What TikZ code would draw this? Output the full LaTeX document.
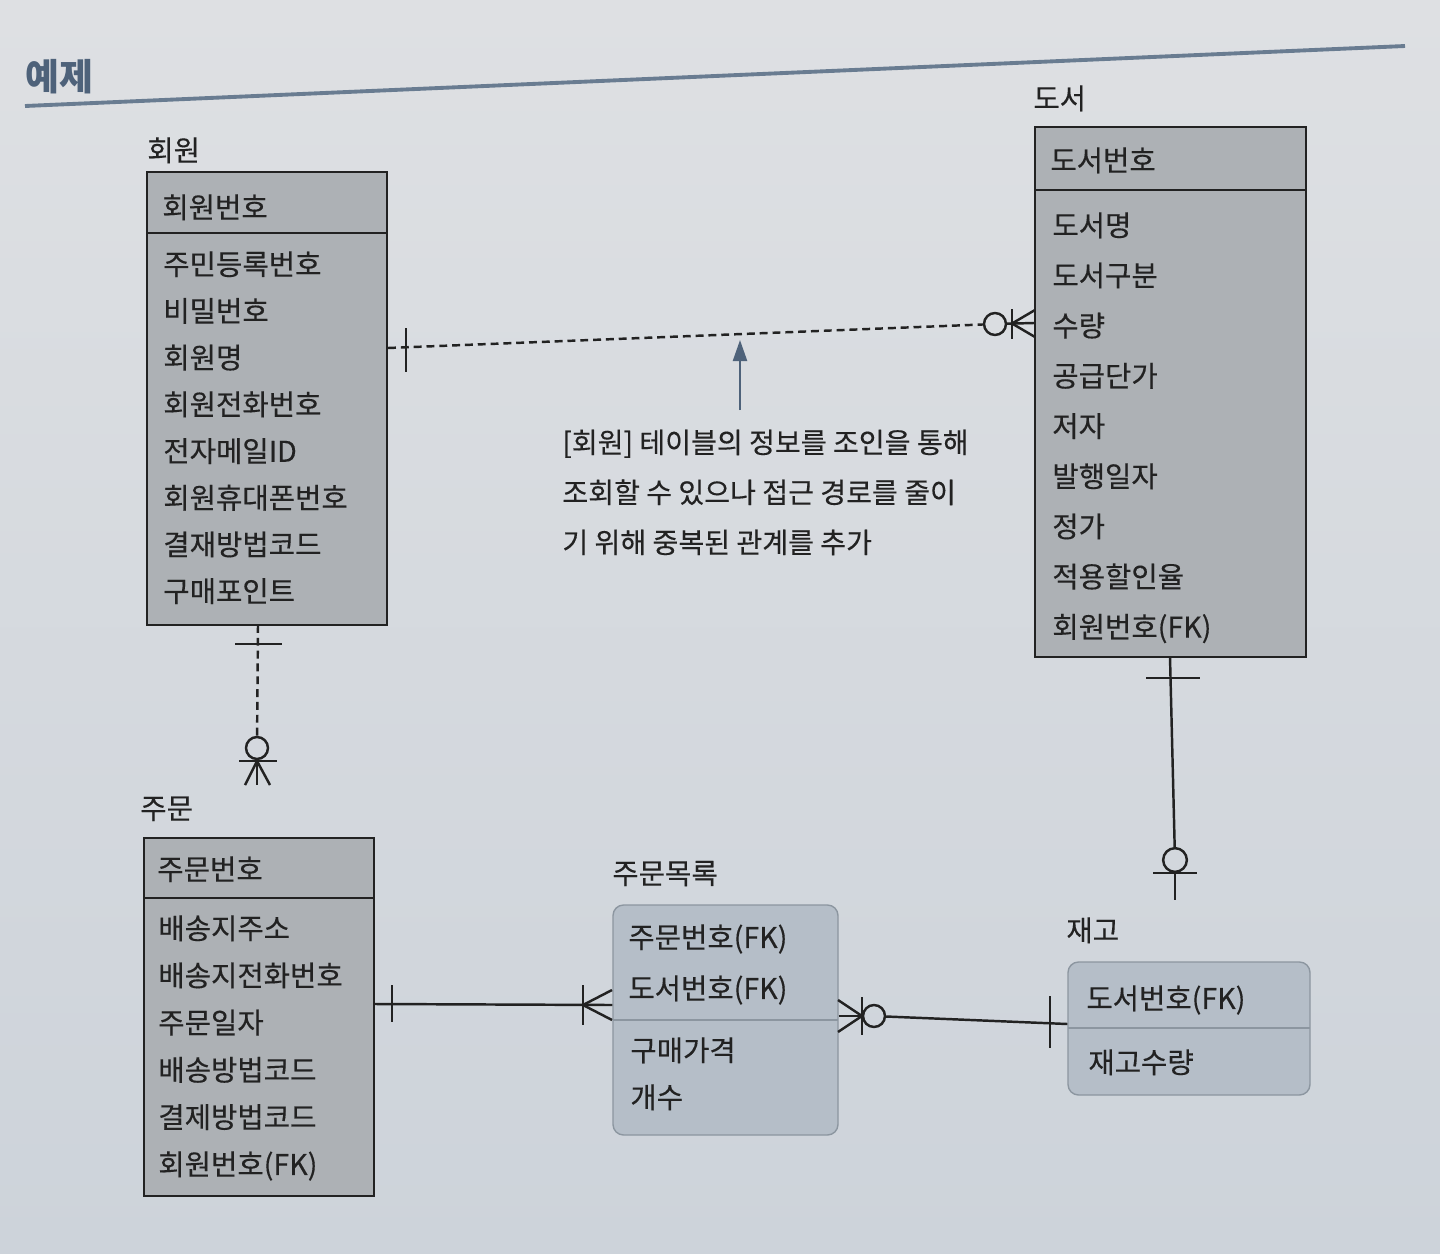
\documentclass[tikz,border=0pt]{standalone}
\usepackage{fontspec}
\setmainfont{Noto Sans CJK KR}
\newfontfamily\kr[FakeBold=0.3]{Noto Sans CJK KR}
\usetikzlibrary{fit,arrows.meta}
\definecolor{paperA}{RGB}{222,224,227}
\definecolor{paperB}{RGB}{205,211,218}
\definecolor{entfill}{RGB}{173,177,181}
\definecolor{relfill}{RGB}{181,190,200}
\definecolor{relline}{RGB}{140,150,160}
\definecolor{ink}{RGB}{34,34,34}
\definecolor{steel}{RGB}{78,98,122}
\definecolor{rule}{RGB}{105,124,145}
\begin{document}
\begin{tikzpicture}[x=0.02cm,y=-0.02cm,
  txt/.style={anchor=west,inner sep=0pt,text=ink,font=\kr\fontsize{16.3}{20}\selectfont,text height=14.5pt,text depth=2pt},
  note/.style={txt,font=\kr\fontsize{16}{20}\selectfont},
  entbox/.style={draw=ink,line width=1.2pt,fill=entfill,inner sep=0pt},
  relbox/.style={draw=relline,line width=0.8pt,fill=relfill,rounded corners=6pt,inner sep=0pt},
  rel/.style={draw=ink,line width=1.4pt},
  dashline/.style={rel,dash pattern=on 4.5pt off 2.8pt},
  ring/.style={circle,draw=ink,line width=1.4pt,minimum size=12.5pt,inner sep=0pt}]
\useasboundingbox (0,0) rectangle (1440,1254);
\shade[top color=paperA,bottom color=paperB] (0,0) rectangle (1440,1254);

% header
\node[anchor=west,inner sep=0pt,text=steel,font=\bfseries\fontsize{21}{24}\selectfont] (title) at (25,77) {예제};
\draw[rule,line width=2.2pt] (25,106) -- (1405,46);

% ---------- 회원 ----------
\coordinate (hwTL) at (147,172); \coordinate (hwBR) at (387,625);
\node[entbox,fit=(hwTL)(hwBR)] (hw) {};
\draw[entbox] (147,233) -- (387,233);
\node[txt] (hwT) at (147,150) {회원};
\node[txt] (hwK) at (162,207) {회원번호};
\foreach \t [count=\i from 0] in {주민등록번호,비밀번호,회원명,회원전화번호,전자메일ID,회원휴대폰번호,결재방법코드,구매포인트}
  \node[txt] (hwA\i) at (163,{264+46.7*\i}) {\t};

% ---------- 도서 ----------
\coordinate (dsTL) at (1035,127); \coordinate (dsBR) at (1306,657);
\node[entbox,fit=(dsTL)(dsBR)] (ds) {};
\draw[entbox] (1035,190) -- (1306,190);
\node[txt] (dsT) at (1033,98) {도서};
\node[txt] (dsK) at (1050,160) {도서번호};
\foreach \t [count=\i from 0] in {도서명,도서구분,수량,공급단가,저자,발행일자,정가,적용할인율,회원번호(FK)}
  \node[txt] (dsA\i) at (1052,{225+50.2*\i}) {\t};

% ---------- 주문 ----------
\coordinate (jmTL) at (144,838); \coordinate (jmBR) at (374,1196);
\node[entbox,fit=(jmTL)(jmBR)] (jm) {};
\draw[entbox] (144,898) -- (374,898);
\node[txt] (jmT) at (140,808) {주문};
\node[txt] (jmK) at (157,869) {주문번호};
\foreach \t [count=\i from 0] in {배송지주소,배송지전화번호,주문일자,배송방법코드,결제방법코드,회원번호(FK)}
  \node[txt] (jmA\i) at (158,{928+47.2*\i}) {\t};

% ---------- 주문목록 ----------
\coordinate (olTL) at (613,905); \coordinate (olBR) at (838,1135);
\node[relbox,fit=(olTL)(olBR)] (ol) {};
\draw[relline,line width=0.8pt] (613,1020) -- (838,1020);
\node[txt] (olT) at (612,873) {주문목록};
\node[txt] (olA0) at (628,937) {주문번호(FK)};
\node[txt] (olA1) at (628,988) {도서번호(FK)};
\node[txt] (olA2) at (630,1050) {구매가격};
\node[txt] (olA3) at (630,1097) {개수};

% ---------- 재고 ----------
\coordinate (jgTL) at (1068,962); \coordinate (jgBR) at (1310,1095);
\node[relbox,fit=(jgTL)(jgBR)] (jg) {};
\draw[relline,line width=0.8pt] (1068,1028) -- (1310,1028);
\node[txt] (jgT) at (1066,930) {재고};
\node[txt] (jgA0) at (1086,998) {도서번호(FK)};
\node[txt] (jgA1) at (1088,1062) {재고수량};

% ---------- 회원 -- 도서 (dashed) ----------
\coordinate (c1a) at (hw.east |- 0,348);
\coordinate (c1b) at (ds.west |- 0,323);
\node[ring] (c1o) at (995,324) {};
\draw[dashline] (c1a) -- (c1o);
\draw[rel] (406,328) -- (406,372);
\draw[rel] (c1o) -- (c1b);
\draw[rel] (1012,309) -- (1012,339);
\draw[rel] (1035,310) -- (1012,323.5) -- (1035,337);

% ---------- 회원 -- 주문 (dashed) ----------
\coordinate (c2a) at (258,625);
\coordinate (c2b) at (257,785);
\node[ring] (c2o) at (257,748) {};
\draw[dashline] (c2a) -- (c2o);
\draw[rel] (235,644) -- (282,644);
\draw[rel] (c2o) -- (c2b);
\draw[rel] (239,761) -- (277,761);
\draw[rel] (245,785) -- (257,761) -- (270,785);

% ---------- 도서 -- 재고 ----------
\coordinate (c3a) at (1170,657);
\coordinate (c3b) at (1175,900);
\node[ring,minimum size=13.5pt] (c3o) at (1175,860) {};
\draw[rel] (c3a) -- (c3o);
\draw[rel] (1146,678) -- (1200,678);
\draw[rel] (c3o) -- (c3b);
\draw[rel] (1153,873) -- (1197,873);

% ---------- 주문 -- 주문목록 ----------
\coordinate (c4a) at (jm.east |- 0,1004);
\coordinate (c4b) at (ol.west |- 0,1005);
\draw[rel] (c4a) -- (c4b);
\draw[rel] (392,985) -- (392,1022);
\draw[rel] (583,985) -- (583,1025);
\draw[rel] (612,990) -- (583,1005) -- (612,1020);

% ---------- 주문목록 -- 재고 ----------
\coordinate (c5a) at (ol.east |- 0,1016);
\coordinate (c5b) at (jg.west |- 0,1024);
\node[ring] (c5o) at (874,1016) {};
\draw[rel] (c5a) -- (c5o);
\draw[rel] (c5o) -- (c5b);
\draw[rel] (838,1000) -- (862,1016) -- (838,1032);
\draw[rel] (862,997) -- (862,1035);
\draw[rel] (1050,996) -- (1050,1048);

% ---------- note ----------
\coordinate (arTail) at (740,410);
\coordinate (arHead) at (740,340);
\draw[steel,line width=1.3pt,-{Triangle[length=12pt,width=8pt]}] (arTail) -- (arHead);
\node[note] (n1) at (562,442) {[회원] 테이블의 정보를 조인을 통해};
\node[note] (n2) at (562,492) {조회할 수 있으나 접근 경로를 줄이};
\node[note] (n3) at (562,542) {기 위해 중복된 관계를 추가};
\end{tikzpicture}
\end{document}
